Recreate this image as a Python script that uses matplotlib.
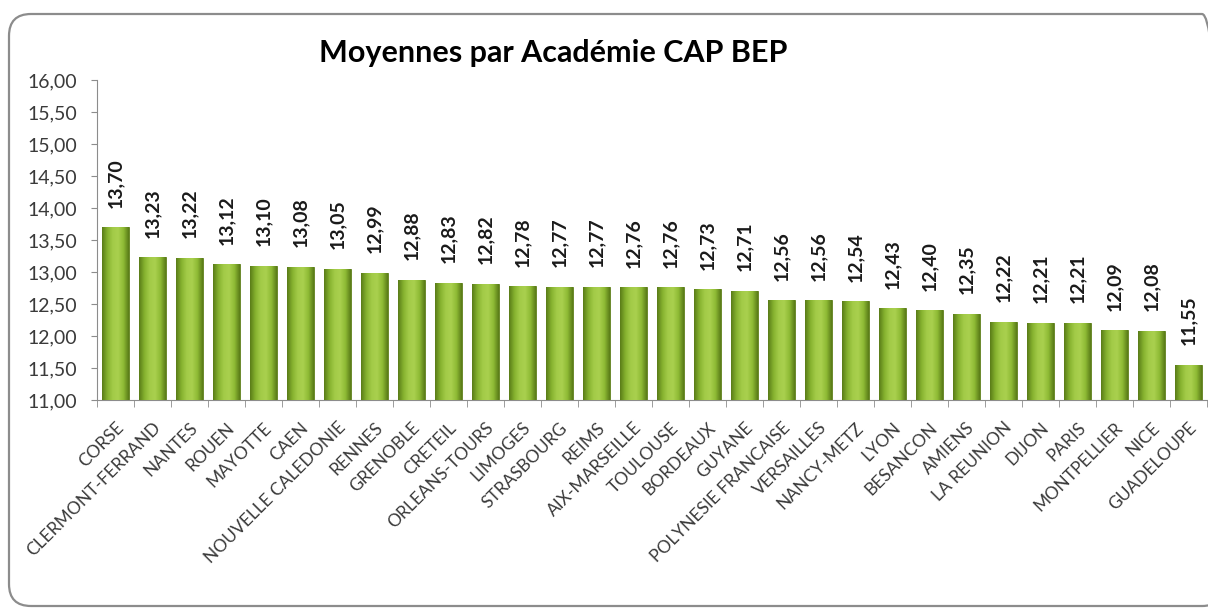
import matplotlib.pyplot as plt
import numpy as np
from matplotlib.patches import FancyBboxPatch
from matplotlib.colors import LinearSegmentedColormap

academies = ["CORSE", "CLERMONT-FERRAND", "NANTES", "ROUEN", "MAYOTTE", "CAEN",
             "NOUVELLE CALEDONIE", "RENNES", "GRENOBLE", "CRETEIL", "ORLEANS-TOURS",
             "LIMOGES", "STRASBOURG", "REIMS", "AIX-MARSEILLE", "TOULOUSE", "BORDEAUX",
             "GUYANE", "POLYNESIE FRANCAISE", "VERSAILLES", "NANCY-METZ", "LYON",
             "BESANCON", "AMIENS", "LA REUNION", "DIJON", "PARIS", "MONTPELLIER",
             "NICE", "GUADELOUPE"]
moyennes = [13.70, 13.23, 13.22, 13.12, 13.10, 13.08, 13.05, 12.99, 12.88, 12.83,
            12.82, 12.78, 12.77, 12.77, 12.76, 12.76, 12.73, 12.71, 12.56, 12.56,
            12.54, 12.43, 12.40, 12.35, 12.22, 12.21, 12.21, 12.09, 12.08, 11.55]
yticks = [11.0, 11.5, 12.0, 12.5, 13.0, 13.5, 14.0, 14.5, 15.0, 15.5, 16.0]

plt.rcParams['font.family'] = ['Lato', 'DejaVu Sans']

fig = plt.figure(figsize=(12.08, 6.08), dpi=100)
ax = fig.add_axes([97 / 1208, 1 - 400 / 608, 1110 / 1208, 320 / 608])

# rounded chart frame (pixel coords)
frame = FancyBboxPatch((9, 2), 1215, 592, boxstyle="round,pad=0,rounding_size=22",
                       transform=None, facecolor='none', edgecolor='#8c8c8c',
                       linewidth=1.6, zorder=0)
fig.patches.append(frame)

x = np.arange(len(academies))
bars = ax.bar(x, moyennes, width=0.72, color='#8cb833', edgecolor='#5d7d1c',
              linewidth=0.6, zorder=2)

# horizontal gradient on each bar
cmap = LinearSegmentedColormap.from_list(
    'g', ['#5a7c18', '#86b22f', '#a3cb48', '#a9d04e', '#8fbb35', '#5a7c18'])
grad = np.linspace(0, 1, 64).reshape(1, -1)
for b in bars:
    x0, w, h = b.get_x(), b.get_width(), b.get_height()
    im = ax.imshow(grad, cmap=cmap, aspect='auto', extent=[x0, x0 + w, 11, h],
                   zorder=3)
    im.set_clip_path(b)

for xi, v in zip(x, moyennes):
    ax.annotate(f"{v:.2f}".replace('.', ','), (xi, v), xytext=(0, 14),
                textcoords='offset points', rotation=90, ha='center', va='bottom',
                fontsize=14, fontweight='bold', color='#1a1a1a')

ax.set_xlim(-0.5, len(academies) - 0.5)
ax.set_ylim(11, 16)
ax.set_yticks(yticks)
ax.set_yticklabels([f"{t:.2f}".replace('.', ',') for t in yticks])
ax.set_xticks(x)
ax.set_xticklabels(academies, rotation=45, ha='right', rotation_mode='anchor')
ax.set_xticks(np.arange(len(academies) + 1) - 0.5, minor=True)
ax.tick_params(axis='x', which='major', length=0, pad=14, labelsize=12.5,
               labelcolor='#3a3a3a')
ax.tick_params(axis='x', which='minor', length=5, color='#8c8c8c')
ax.tick_params(axis='y', length=4, color='#8c8c8c', pad=10, labelsize=14,
               labelcolor='#3a3a3a')

for s in ['top', 'right']:
    ax.spines[s].set_visible(False)
for s in ['left', 'bottom']:
    ax.spines[s].set_color('#8c8c8c')

fig.text(553 / 1208, 1 - 53 / 608, "Moyennes par Académie CAP BEP", ha='center',
         va='center', fontsize=22, fontweight='bold', color='black')

fig.savefig('out.png', dpi=100)
